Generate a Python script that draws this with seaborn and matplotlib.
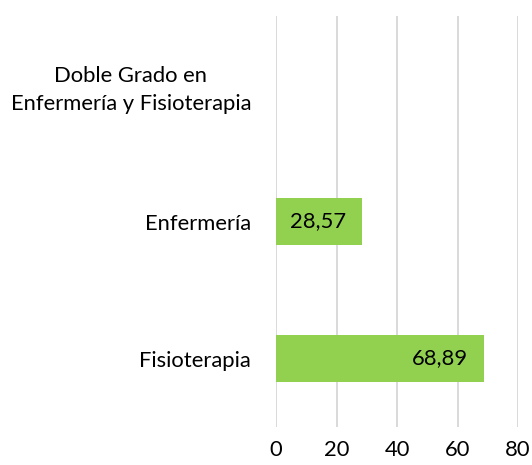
import numpy as np
import matplotlib
matplotlib.use('Agg')
import matplotlib.pyplot as plt
import seaborn as sns

# data
categories = ['Doble Grado en\nEnfermería y Fisioterapia', 'Enfermería', 'Fisioterapia']
values = [0, 28.57, 68.89]
x_ticks = [0, 20, 40, 60, 80]

BAR_COLOR = '#92D050'
GRID_COLOR = '#D9D9D9'
FS = 15.8

sns.set_theme(style='white')
plt.rcParams['font.family'] = ['Lato', 'DejaVu Sans']

fig = plt.figure(figsize=(5.32, 4.65), dpi=100)
ax = fig.add_axes([0.5188, 0.0817, 0.4549, 0.8839])

sns.barplot(x=values, y=categories, orient='h', color=BAR_COLOR,
            width=0.35, saturation=1, linewidth=0, ax=ax)

ax.set_xlim(0, 80)
ax.set_xticks(x_ticks)
ax.xaxis.grid(True, color=GRID_COLOR, linewidth=1.4)
ax.set_axisbelow(True)
for s in ax.spines.values():
    s.set_visible(False)

ax.tick_params(axis='x', length=0, pad=9, labelsize=FS, colors='#000000')
ax.tick_params(axis='y', length=0, pad=18, labelsize=FS, colors='#000000')
for lbl in ax.get_yticklabels():
    lbl.set_multialignment('center')
    lbl.set_linespacing(1.45)

# value labels, inside end, comma decimals
for patch, v in zip(ax.patches, values):
    if v <= 0:
        continue
    y = patch.get_y() + patch.get_height() / 2
    ax.annotate(f'{v:.2f}'.replace('.', ','), xy=(v, y), xytext=(-12, 0),
                textcoords='offset points', ha='right', va='center',
                fontsize=FS, color='#000000')

ax.set_xlabel('')
ax.set_ylabel('')
fig.savefig('out.png', dpi=100)
